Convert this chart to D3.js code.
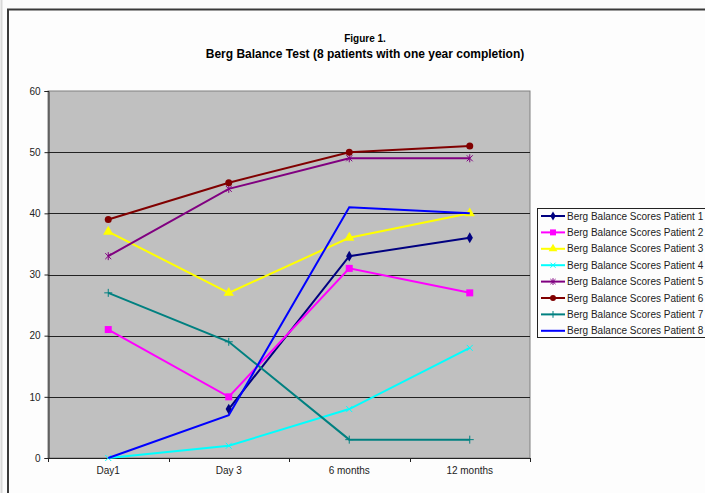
<!DOCTYPE html>
<html><head><meta charset="utf-8">
<script src="https://cdn.jsdelivr.net/npm/d3@7"></script>
<style>
html,body{margin:0;padding:0;background:#fcfcfc;}
svg{display:block;font-family:"Liberation Sans",Arial,sans-serif;}
</style></head>
<body>
<svg id="c" width="705" height="493"></svg>
<script>
const categories = ["Day1", "Day 3", "6 months", "12 months"];
const seriesNames = [
  "Berg Balance Scores Patient 1","Berg Balance Scores Patient 2","Berg Balance Scores Patient 3",
  "Berg Balance Scores Patient 4","Berg Balance Scores Patient 5","Berg Balance Scores Patient 6",
  "Berg Balance Scores Patient 7","Berg Balance Scores Patient 8"];
const patient1 = [null, 8, 33, 36];
const patient2 = [21, 10, 31, 27];
const patient3 = [37, 27, 36, 40];
const patient4 = [0, 2, 8, 18];
const patient5 = [33, 44, 49, 49];
const patient6 = [39, 45, 50, 51];
const patient7 = [27, 19, 3, 3];
const patient8 = [0, 7, 41, 40];
const yTicks = [0, 10, 20, 30, 40, 50, 60];
const colors = ["#000080","#ff00ff","#ffff00","#00ffff","#800080","#800000","#008080","#0000ff"];
const markers = ["diamond","square","triangle","x","star","circle","plus","none"];
const values = [patient1,patient2,patient3,patient4,patient5,patient6,patient7,patient8];

const svg = d3.select("#c");
svg.append("rect").attr("x",0).attr("y",0).attr("width",705).attr("height",493).attr("fill","#fcfcfc");
svg.append("line").attr("x1",1.5).attr("x2",1.5).attr("y1",0).attr("y2",493).attr("stroke","#d8d8d8").attr("stroke-width",2);
svg.append("rect").attr("x",8).attr("y",9.5).attr("width",720).attr("height",500)
  .attr("fill","#fdfdfd").attr("stroke","#3a3a3a").attr("stroke-width",2);

svg.append("text").attr("x",365).attr("y",42).attr("text-anchor","middle")
  .attr("font-size",10).attr("font-weight","bold").text("Figure 1.");
svg.append("text").attr("x",365).attr("y",58).attr("text-anchor","middle")
  .attr("font-size",12).attr("font-weight","bold").text("Berg Balance Test (8 patients with one year completion)");

const L=48, R=530, T=91, B=458;
const x = d3.scaleBand().domain(categories).range([L,R]).paddingInner(0).paddingOuter(0);
const y = d3.scaleLinear().domain([0,60]).range([B,T]);
const cx = c => x(c) + x.bandwidth()/2;

svg.append("rect").attr("x",L).attr("y",T).attr("width",R-L).attr("height",B-T)
  .attr("fill","#c0c0c0").attr("stroke","#808080").attr("stroke-width",1);

svg.append("g").selectAll("line").data(yTicks.filter(d=>d>0 && d<60)).join("line")
  .attr("x1",L).attr("x2",R).attr("y1",d=>Math.round(y(d))+0.5).attr("y2",d=>Math.round(y(d))+0.5)
  .attr("stroke","#222").attr("stroke-width",1);

const ya = svg.append("g").attr("transform",`translate(${L+0.5},0)`)
  .call(d3.axisLeft(y).tickValues(yTicks).tickSize(4).tickPadding(4));
ya.select(".domain").attr("stroke","#222");
ya.selectAll(".tick line").attr("stroke","#222");
ya.selectAll("text").attr("font-size",10).attr("fill","#222").attr("font-family","Liberation Sans, Arial, sans-serif");

svg.append("line").attr("x1",L).attr("x2",R).attr("y1",B+0.5).attr("y2",B+0.5).attr("stroke","#222");
const bounds = categories.map(c=>x(c)).concat([R]);
svg.append("g").selectAll("line").data(bounds).join("line")
  .attr("x1",d=>Math.round(d)+0.5).attr("x2",d=>Math.round(d)+0.5).attr("y1",B).attr("y2",B+4).attr("stroke","#222");
svg.append("g").selectAll("text").data(categories).join("text")
  .attr("x",d=>cx(d)).attr("y",B+16).attr("text-anchor","middle").attr("font-size",10).attr("fill","#222").text(d=>d);

function drawMarker(g, type, color, px, py, s) {
  s = s || 1;
  switch(type){
    case "diamond":
      g.append("path").attr("d",d3.symbol(d3.symbolDiamond, 34*s*s)()).attr("transform",`translate(${px},${py})`).attr("fill",color); break;
    case "square":
      g.append("rect").attr("x",px-3.5*s).attr("y",py-3.5*s).attr("width",7*s).attr("height",7*s).attr("fill",color); break;
    case "triangle":
      g.append("path").attr("d",d3.symbol(d3.symbolTriangle, 46*s*s)()).attr("transform",`translate(${px},${py})`).attr("fill",color); break;
    case "x":
      g.append("path").attr("d",`M${px-3*s},${py-3*s}L${px+3*s},${py+3*s}M${px-3*s},${py+3*s}L${px+3*s},${py-3*s}`).attr("stroke",color).attr("stroke-width",1); break;
    case "star":
      g.append("path").attr("d",`M${px-3*s},${py-3*s}L${px+3*s},${py+3*s}M${px-3*s},${py+3*s}L${px+3*s},${py-3*s}M${px},${py-4*s}L${px},${py+4*s}`).attr("stroke",color).attr("stroke-width",1); break;
    case "circle":
      g.append("circle").attr("cx",px).attr("cy",py).attr("r",3.5*s).attr("fill",color); break;
    case "plus":
      g.append("path").attr("d",`M${px-4*s},${py}L${px+4*s},${py}M${px},${py-4*s}L${px},${py+4*s}`).attr("stroke",color).attr("stroke-width",1); break;
  }
}

const line = d3.line().defined(d=>d.v!=null).x(d=>cx(d.c)).y(d=>y(d.v));
values.forEach((vals,i)=>{
  const pts = categories.map((c,j)=>({c, v: vals[j]}));
  const g = svg.append("g");
  g.append("path").attr("d",line(pts)).attr("fill","none").attr("stroke",colors[i]).attr("stroke-width",2);
  pts.filter(p=>p.v!=null).forEach(p=>drawMarker(g, markers[i], colors[i], cx(p.c), y(p.v)));
});

const lx=537, ly=208;
svg.append("rect").attr("x",lx+0.5).attr("y",ly+0.5).attr("width",200).attr("height",129)
  .attr("fill","#fdfdfd").attr("stroke","#222").attr("stroke-width",1);
seriesNames.forEach((n,i)=>{
  const yy = ly + 8 + i*16.4;
  const g = svg.append("g");
  g.append("line").attr("x1",lx+4).attr("x2",lx+28).attr("y1",yy).attr("y2",yy).attr("stroke",colors[i]).attr("stroke-width",2);
  drawMarker(g, markers[i], colors[i], lx+16, yy, 0.85);
  g.append("text").attr("x",lx+30).attr("y",yy+3.5).attr("font-size",10).attr("fill","#222").text(n);
});
</script>
</body></html>
